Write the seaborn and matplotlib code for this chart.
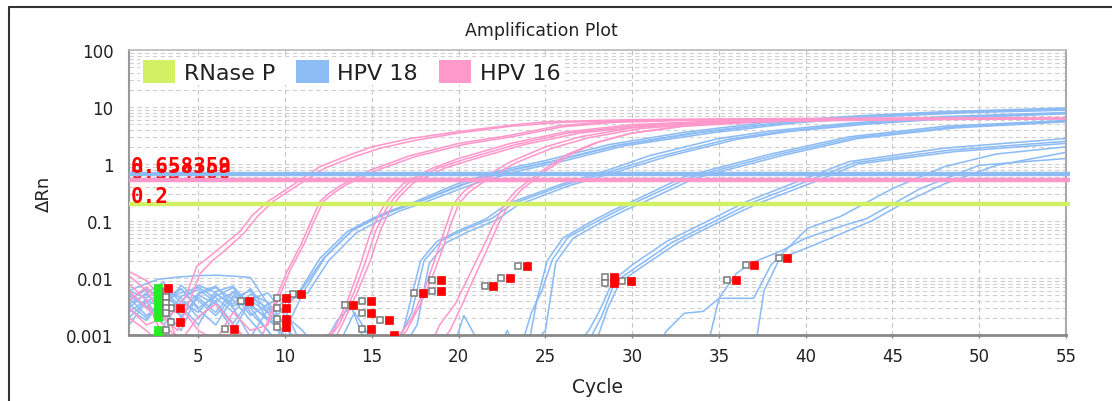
import matplotlib
matplotlib.use("Agg")
import matplotlib.pyplot as plt
import seaborn as sns
import pandas as pd
from matplotlib.patches import Patch
from matplotlib.lines import Line2D
from matplotlib import transforms
from matplotlib.ticker import LogLocator, NullFormatter

# ---------------- data ----------------
targets = ["RNase P", "HPV 18", "HPV 16"]
colors = ["#d2f064", "#8dbcf5", "#ff99cc"]
thresholds = [0.2, 0.658359, 0.534100]
threshold_labels = ["0.2", "0.658359", "0.534100"]
x_ticks = [5, 10, 15, 20, 25, 30, 35, 40, 45, 50, 55]
y_ticks = [0.001, 0.01, 0.1, 1, 10, 100]
y_tick_labels = ["0.001", "0.01", "0.1", "1", "10", "100"]

# HPV 16 curves (cycle, delta Rn)
P1a = [(1,.013),(2,.009),(3,.004),(3.6,.0025),(4.3,.005),(4.9,.016),(5.5,.022),(6.2,.033),(7.4,.066),(8.1,.125),(9,.22),(10.4,.42),(12,.9),(13.6,1.4),(15,2.0),(17.2,2.8),(20,3.7),(23,4.8),(25,5.5),(30,6.0),(40,6.3),(55,6.5)]
P1b = [(1,.011),(2,.006),(3,.002),(3.8,.0012),(4.5,.004),(5.1,.012),(5.8,.02),(6.5,.03),(7.6,.06),(8.4,.12),(9.3,.22),(10.7,.42),(12.3,.85),(14,1.35),(15.5,1.9),(17.5,2.6),(20,3.5),(23,4.6),(26,5.4),(31,5.9),(40,6.2),(55,6.4)]
P2a = [(1,.006),(2,.003),(3,.0015),(4,.0008),(5,.0021),(6,.0035),(7,.0015),(8,.0007),(8.7,.001),(9.5,.0045),(10.1,.013),(10.9,.038),(11.4,.085),(12,.22),(12.5,.3),(13.2,.42),(14.9,.78),(17.2,1.4),(20,2.3),(23,3.2),(25.8,4.7),(28.7,5.5),(33,6.0),(45,6.3),(55,6.4)]
P2b = [(1,.003),(2,.0015),(3,.002),(4,.003),(5,.0012),(6,.0008),(7,.0025),(8,.0012),(9,.0015),(9.7,.005),(10.3,.014),(11.1,.04),(11.6,.09),(12.2,.22),(12.8,.31),(13.5,.43),(15.2,.76),(17.5,1.35),(20.3,2.2),(23.3,3.1),(26,4.5),(29,5.4),(34,5.9),(45,6.2),(55,6.3)]
P3a = [(1,.008),(2,.004),(3,.0009),(4,.0005),(12,.0008),(12.8,.0012),(13.6,.004),(14.3,.016),(14.9,.06),(15.5,.15),(16,.25),(16.8,.45),(18.5,.85),(20,1.25),(23,2.3),(26,3.6),(30,4.9),(35,5.7),(45,6.2),(55,6.4)]
P3b = [(1,.004),(2,.007),(3,.003),(4,.0006),(12.3,.0007),(13.1,.0015),(13.9,.005),(14.6,.018),(15.2,.065),(15.8,.16),(16.3,.26),(17.1,.46),(18.8,.85),(20.3,1.2),(23.3,2.2),(26.3,3.5),(30.5,4.8),(36,5.6),(45,6.1),(55,6.3)]
P3c = [(1,.002),(2,.0012),(3,.0006),(12.6,.0006),(13.4,.0018),(14.2,.006),(14.9,.02),(15.5,.07),(16.1,.17),(16.6,.27),(17.4,.47),(19.2,.85),(20.8,1.2),(23.8,2.2),(27,3.5),(31,4.7),(37,5.6),(46,6.1),(55,6.3)]
P4a = [(15.5,.0004),(16.5,.0009),(17.3,.002),(18,.006),(18.6,.02),(19.2,.07),(19.7,.2),(20.3,.33),(21.5,.6),(23,1.1),(25,2.0),(27,3.0),(30,4.3),(34,5.4),(40,6.0),(55,6.4)]
P4b = [(16,.0005),(17,.0012),(17.8,.0035),(18.4,.009),(19,.028),(19.5,.08),(20,.2),(20.6,.32),(21.8,.58),(23.3,1.05),(25.4,1.9),(27.5,2.9),(30.5,4.2),(35,5.3),(42,5.9),(55,6.3)]
P5a = [(18.5,.0005),(19.5,.0012),(20.3,.004),(21,.012),(21.7,.035),(22.3,.09),(22.9,.2),(23.6,.35),(25,.75),(26.5,1.5),(28,2.4),(30,3.5),(33,4.7),(37,5.6),(45,6.1),(55,6.3)]
P5b = [(18.2,.0005),(18.9,.0015),(19.8,.0035),(20.6,.011),(21.3,.03),(22,.085),(22.6,.19),(23.3,.34),(24.7,.72),(26.2,1.45),(27.8,2.3),(29.8,3.4),(33,4.6),(38,5.6),(46,6.0),(55,6.2)]

# HPV 18 curves
B1a = [(1,.005),(2,.003),(3,.006),(4,.0045),(5,.002),(6,.004),(7,.0055),(8,.0022),(9,.0035),(10,.0045),(10.85,.006),(12,.022),(13.6,.066),(15,.11),(16,.15),(17.2,.2),(20,.46),(22.6,.8),(25,1.15),(28.7,2.2),(33,3.6),(38,5.5),(43,7.0),(48,8.3),(55,9.6)]
B1b = [(1,.003),(2,.0055),(3,.0085),(4,.002),(5,.005),(6,.0035),(7,.0012),(8,.004),(9,.0025),(10,.003),(11,.0065),(12.2,.022),(13.8,.066),(15.2,.11),(16.2,.15),(17.4,.2),(20.2,.44),(22.8,.76),(25.3,1.1),(29,2.1),(33.5,3.5),(38.5,5.3),(43.5,6.9),(48.5,8.1),(55,9.2)]
B1c = [(1,.0045),(2,.0022),(3,.0035),(4,.0065),(5,.0028),(6,.0015),(7,.0045),(8,.006),(9,.0018),(10,.0012),(11.1,.006),(12.3,.023),(13.9,.07),(15.3,.115),(16.4,.16),(17.6,.21),(20.5,.46),(23,.78),(25.5,1.12),(29.3,2.15),(34,3.6),(39,5.4),(44,7.0),(49,8.2),(55,9.0)]
B1d = [(1,.002),(2,.004),(3,.0015),(4,.0038),(5,.0075),(6,.0055),(7,.003),(8,.0009),(9,.0028),(10,.0038),(11.3,.0055),(12.5,.02),(14.1,.062),(15.5,.105),(16.6,.15),(17.8,.2),(20.8,.44),(23.3,.74),(25.8,1.08),(29.6,2.1),(34.5,3.5),(39.5,5.3),(44.5,6.8),(49.5,8.0),(55,8.8)]
B2a = [(1,.006),(2,.008),(2.7,.0095),(4,.0105),(5,.011),(6,.0112),(7,.0108),(8,.0102),(9,.0035),(10,.0009),(11,.0004),(13,.0006),(14,.0025),(15,.0008),(16,.0004),(16.8,.0012),(17.8,.02),(18.75,.044),(19.9,.066),(21.6,.11),(22.8,.2),(25.8,.43),(28.7,.8),(31,1.4),(35,2.8),(38,3.8),(42.5,5.2),(48,6.8),(55,8.0)]
B2b = [(1,.0035),(2,.002),(3,.0045),(4,.0065),(5,.003),(6,.0048),(7,.0068),(8,.0025),(9,.0012),(10,.0004),(12,.0005),(13,.0018),(13.8,.0032),(14.5,.0009),(15.5,.0004),(16.5,.0008),(17.3,.0025),(18,.02),(19,.045),(20.2,.068),(21.9,.11),(23.1,.2),(26,.42),(29,.78),(31.5,1.35),(35.5,2.7),(38.5,3.7),(43,5.1),(48.5,6.6),(55,7.8)]
B2c = [(1,.0025),(2,.0042),(3,.0028),(4,.0012),(5,.0055),(6,.0072),(7,.0032),(8,.0045),(9,.003),(10,.0015),(11,.0004),(16.8,.0006),(17.6,.0015),(18.3,.018),(19.3,.042),(20.5,.064),(22.2,.105),(23.4,.19),(26.3,.41),(29.3,.76),(32,1.35),(36,2.7),(39,3.7),(43.5,5.0),(49,6.5),(55,7.6)]
B3a = [(1,.004),(2,.0065),(3,.0035),(4,.0022),(5,.0045),(6,.0025),(7,.0058),(8,.0035),(9,.0018),(10,.0028),(11,.0006),(12,.0004),(19.5,.0004),(20.3,.0022),(21,.0009),(21.5,.0004),(24,.0006),(24.5,.004),(25.1,.02),(26,.05),(27.7,.1),(29,.16),(30,.22),(33,.6),(38,1.5),(42.5,3.0),(48,4.6),(55,5.8)]
B3b = [(1,.0055),(2,.0032),(3,.0018),(4,.0048),(5,.0062),(6,.0038),(7,.0016),(8,.0042),(9,.0055),(10,.0022),(11,.0012),(12,.0005),(23.5,.0005),(24.2,.0025),(24.8,.006),(25.4,.021),(26.3,.052),(28,.1),(29.3,.16),(30.3,.22),(33.3,.58),(38.3,1.45),(42.8,2.9),(48.3,4.4),(55,5.6)]
B3c = [(1,.0015),(2,.0038),(3,.0058),(4,.0032),(5,.0015),(6,.0052),(7,.0035),(8,.0065),(9,.0025),(10,.0007),(22,.0004),(22.8,.0012),(23.5,.0004),(25,.0012),(25.6,.019),(26.6,.05),(28.3,.098),(29.6,.155),(30.6,.21),(33.6,.56),(38.6,1.4),(43,2.8),(48.6,4.3),(55,5.5)]
B4a = [(1,.0035),(2,.0052),(3,.0028),(4,.0075),(5,.004),(6,.0022),(7,.0048),(8,.003),(9,.0012),(10,.0005),(26.5,.0005),(27.5,.0012),(28.1,.0026),(28.9,.009),(30,.017),(32,.044),(35,.125),(36.6,.22),(40,.56),(42.5,1.1),(48,1.9),(55,2.8)]
B4b = [(1,.006),(2,.0045),(3,.0068),(4,.0038),(5,.0025),(6,.0058),(7,.0072),(8,.0032),(9,.002),(10,.0009),(11,.0004),(27,.0004),(28.2,.002),(29,.0085),(30.3,.016),(32.3,.042),(35.3,.12),(36.9,.21),(40.3,.53),(42.8,1.05),(48.3,1.75),(55,2.5)]
B4c = [(1,.0028),(2,.0018),(3,.0042),(4,.0055),(5,.0068),(6,.0045),(7,.0025),(8,.0052),(9,.0038),(10,.0015),(11,.0005),(27.8,.0006),(28.6,.003),(29.3,.0085),(30.6,.016),(32.6,.041),(35.6,.118),(37.2,.2),(40.6,.5),(43,1.0),(48.6,1.65),(55,2.3)]
B5a = [(1,.0042),(2,.0062),(3,.0048),(4,.003),(5,.0052),(6,.0068),(7,.0042),(8,.0018),(9,.0008),(31,.0004),(32,.0012),(33,.0024),(34.1,.0026),(35,.0044),(37,.0044),(38,.017),(40.1,.074),(42,.12),(45,.37),(48,.9),(51,1.5),(55,2.0)]
B5b = [(34.5,.001),(35,.0044),(36,.012),(36.8,.018),(38.6,.03),(40,.05),(42,.08),(43.5,.11),(46.6,.37),(50,.95),(55,1.25)]
B5c = [(37,.0004),(37.6,.006),(38.5,.022),(40,.033),(43.8,.1),(45.8,.22),(48,.45),(51,.95),(55,1.6)]

hpv16_curves = [P1a, P1b, P2a, P2b, P3a, P3b, P3c, P4a, P4b, P5a, P5b]
hpv18_curves = [B1a, B1b, B1c, B1d, B2a, B2b, B2c, B3a, B3b, B3c, B4a, B4b, B4c, B5a, B5b, B5c]

# baseline markers (cycle, delta Rn)
pair_cycle = [3.7, 3.7, 7.7, 6.8, 9.8, 9.8, 9.8, 9.8, 10.7, 13.7, 14.7, 14.7, 14.7, 15.75, 17.7, 18.75, 18.75, 21.75, 22.7, 23.7, 28.7, 28.7, 29.7, 35.75, 36.8, 38.7]
pair_value = [.003, .0017, .004, .0013, .0045, .003, .0019, .0014, .0052, .0034, .0039, .0024, .0013, .0018, .0054, .0093, .0058, .0072, .0099, .016, .0105, .0082, .0088, .0093, .017, .022]
rnase_cycle = [2.7, 2.7, 2.7, 2.7, 2.7, 2.7, 2.7, 2.7, 2.7]
rnase_value = [.0068, .0058, .0048, .004, .0033, .0027, .0021, .0012, .00105]
gray_col_cycle = [3.15, 3.15, 3.15, 3.15, 3.15, 3.15]
gray_col_value = [.0056, .0046, .0037, .003, .0024, .0012]
red_single_cycle = [3.25, 16.25]
red_single_value = [.0068, .00102]

# ---------------- figure ----------------
sns.set_style("white")
plt.rcParams["font.family"] = ["DejaVu Sans"]

W, H = 1112, 402
fig = plt.figure(figsize=(W / 100, H / 100), dpi=100)
L, R, T, B = 129, 1066, 51, 336
ax = fig.add_axes([L / W, 1 - B / H, (R - L) / W, (B - T) / H])

rows = []
for tgt, curves in (("HPV 18", hpv18_curves), ("HPV 16", hpv16_curves)):
    for i, pts in enumerate(curves):
        for c, v in pts:
            rows.append({"target": tgt, "well": f"{tgt}-{i}", "cycle": c, "rn": v})
df = pd.DataFrame(rows)
palette = dict(zip(targets, colors))

ax.set_yscale("log")
sns.lineplot(data=df, x="cycle", y="rn", hue="target", units="well",
             estimator=None, sort=False, palette=palette, linewidth=1.15,
             legend=False, ax=ax, zorder=2)

ax.set_xlim(1, 55)
ax.set_ylim(0.001, 100)

# grid
ax.set_xticks(x_ticks)
ax.set_xticklabels([str(t) for t in x_ticks])
ax.set_yticks(y_ticks)
ax.set_yticklabels(y_tick_labels)
ax.yaxis.set_minor_locator(LogLocator(base=10, subs=range(2, 10), numticks=20))
ax.yaxis.set_minor_formatter(NullFormatter())
ax.grid(True, axis="x", which="major", ls=(0, (4, 3)), color="#c4c4c4", lw=0.8)
ax.grid(True, axis="y", which="both", ls=(0, (4, 3)), color="#cfcfcf", lw=0.8)
ax.set_axisbelow(True)

ax.tick_params(axis="y", which="major", length=4, width=1, color="#888888",
               labelsize=12, pad=7, labelcolor="#222222")
ax.tick_params(axis="y", which="minor", length=0)
ax.tick_params(axis="x", which="major", length=2.5, width=1, color="#888888",
               labelsize=12, pad=6, labelcolor="#222222", bottom=True)

for side, col, lw in (("left", "#999999", 1.5), ("bottom", "#888888", 2.0),
                      ("top", "#bbbbbb", 1.2), ("right", "#aaaaaa", 1.5)):
    ax.spines[side].set_visible(True)
    ax.spines[side].set_color(col)
    ax.spines[side].set_linewidth(lw)

ax.set_xlabel("Cycle", fontsize=13.5, labelpad=9, color="#222222")
ax.set_ylabel("\u0394Rn", fontsize=13, labelpad=10, color="#222222")

# threshold lines
ylab_tr = ax.get_yaxis_transform()
lab_tr = transforms.offset_copy(ylab_tr, fig=fig, x=0, y=2, units="dots")
# pink label first (under the lines)
ax.text(0.002, thresholds[2], threshold_labels[2], transform=lab_tr, color="red",
        fontsize=15, fontweight="bold", family="DejaVu Sans Mono",
        va="baseline", ha="left", zorder=4)
for val, col in zip(thresholds, colors):
    ax.plot([1, 55.25], [val, val], color=col, lw=3.2, solid_capstyle="butt",
            clip_on=False, zorder=5)
for idx in (1, 0):
    ax.text(0.002, thresholds[idx], threshold_labels[idx], transform=lab_tr,
            color="red", fontsize=15, fontweight="bold", family="DejaVu Sans Mono",
            va="baseline", ha="left", zorder=6)

# baseline markers
gray_tr = transforms.offset_copy(ax.transData, fig=fig, x=-4.5, y=0, units="dots")
red_tr = transforms.offset_copy(ax.transData, fig=fig, x=4, y=0, units="dots")
ax.plot(pair_cycle, pair_value, ls="none", marker="s", ms=5, mfc="white",
        mec="#7a7a7a", mew=1.1, transform=gray_tr, zorder=7)
ax.plot(pair_cycle, pair_value, ls="none", marker="s", ms=6.2, mfc="#ff0000",
        mec="#ff0000", mew=0.5, transform=red_tr, zorder=8)
ax.plot(rnase_cycle, rnase_value, ls="none", marker="s", ms=6.2, mfc="#22ee22",
        mec="#22ee22", mew=0.5, zorder=7)
ax.plot(gray_col_cycle, gray_col_value, ls="none", marker="s", ms=5, mfc="white",
        mec="#7a7a7a", mew=1.1, zorder=7)
ax.plot(red_single_cycle, red_single_value, ls="none", marker="s", ms=6.2,
        mfc="#ff0000", mec="#ff0000", mew=0.5, zorder=8)

# legend
handles = [Patch(facecolor=c, edgecolor="none", label=t) for t, c in zip(targets, colors)]
leg = ax.legend(handles=handles, loc="upper left", ncol=3, frameon=True,
                facecolor="white", edgecolor="none", framealpha=1, fancybox=False,
                fontsize=16, handlelength=1.45, handleheight=1.2,
                handletextpad=0.4, columnspacing=0.95, borderpad=0.12,
                borderaxespad=0, bbox_to_anchor=(0.012, 0.975))
leg.set_zorder(9)
for t in leg.get_texts():
    t.set_color("#222222")

# title and outer frame
fig.text(541 / W, 1 - 31 / H, "Amplification Plot", ha="center", va="center",
         fontsize=12.5, color="#222222")
fig.add_artist(Line2D([9 / W, 9 / W], [0, 1 - 8 / H], transform=fig.transFigure,
                      color="#333333", lw=1.5))
fig.add_artist(Line2D([9 / W, 1], [1 - 8 / H, 1 - 8 / H], transform=fig.transFigure,
                      color="#333333", lw=1.5))

fig.savefig("out.png", dpi=100, facecolor="white")
